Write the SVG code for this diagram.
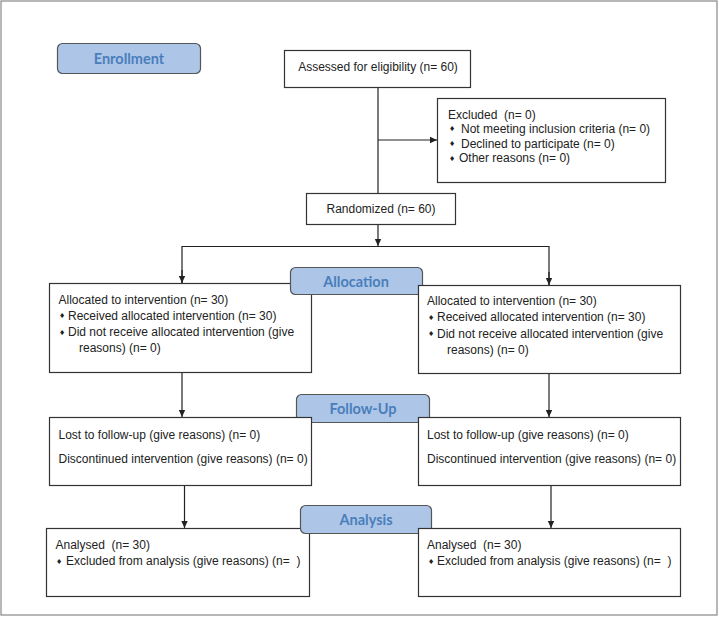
<svg xmlns="http://www.w3.org/2000/svg" width="719" height="617" viewBox="0 0 719 617">
<defs>
<marker id="ah" markerWidth="8" markerHeight="8" refX="7" refY="4" orient="auto" markerUnits="userSpaceOnUse">
<path d="M0,0.8 L7,4 L0,7.2 Z" fill="#222"/>
</marker>
<style>
.box{fill:#fff;stroke:#333;stroke-width:1.2}
.lab{fill:#adc6e8;stroke:#555;stroke-width:1.2}
.lt{font-family:Lato,"Open Sans","Liberation Sans",sans-serif;font-weight:bold;font-size:14.5px;fill:#4a7ebb;text-anchor:middle}
.t{font-family:"Liberation Sans",Arial,sans-serif;font-size:12px;fill:#222;white-space:pre}
.b{font-family:"DejaVu Sans",sans-serif;font-size:7px;fill:#222}
.c{text-anchor:middle}
.ln{fill:none;stroke:#222;stroke-width:1.2}
</style>
</defs>
<rect x="1" y="1" width="716" height="614" fill="#fff" stroke="#888" stroke-width="1.2"/>

<g id="enrollment">
<rect class="lab" x="57.5" y="43.5" width="143" height="30" rx="5"/>
<text class="lt" x="129" y="63.5">Enrollment</text>
</g>

<g id="assessed">
<rect class="box" x="284.5" y="50.5" width="186" height="37"/>
<text class="t c" x="378" y="71">Assessed for eligibility (n= 60)</text>
</g>

<g id="excluded">
<rect class="box" x="437.5" y="98.5" width="228" height="84"/>
<text class="t" x="448" y="118.5" xml:space="preserve">Excluded  (n= 0)</text>
<text class="b" x="449" y="131">♦</text><text class="t" x="461" y="132.5">Not meeting inclusion criteria (n= 0)</text>
<text class="b" x="449" y="146">♦</text><text class="t" x="461" y="147.5">Declined to participate (n= 0)</text>
<text class="b" x="449" y="160.5">♦</text><text class="t" x="459" y="162">Other reasons (n= 0)</text>
</g>

<g id="randomized">
<rect class="box" x="306.5" y="193.5" width="149" height="31"/>
<text class="t c" x="381" y="212.5">Randomized (n= 60)</text>
</g>

<g id="alloc-left">
<rect class="box" x="49.5" y="283.5" width="262" height="89"/>
<text class="t" x="58.5" y="303.5">Allocated to intervention (n= 30)</text>
<text class="b" x="59" y="318">♦</text><text class="t" x="68" y="319.5">Received allocated intervention (n= 30)</text>
<text class="b" x="59" y="334.5">♦</text><text class="t" x="68" y="336">Did not receive allocated intervention (give</text>
<text class="t" x="79" y="352">reasons) (n= 0)</text>
</g>

<g id="allocation">
<rect class="lab" x="290.5" y="267.5" width="132" height="27" rx="5"/>
<text class="lt" x="356" y="286.5">Allocation</text>
</g>

<g id="alloc-right">
<rect class="box" x="418.5" y="285.5" width="262" height="88"/>
<text class="t" x="427" y="305">Allocated to intervention (n= 30)</text>
<text class="b" x="428" y="319.5">♦</text><text class="t" x="437" y="321">Received allocated intervention (n= 30)</text>
<text class="b" x="428" y="336">♦</text><text class="t" x="437" y="337.5">Did not receive allocated intervention (give</text>
<text class="t" x="447" y="353.5">reasons) (n= 0)</text>
</g>

<g id="followup">
<rect class="lab" x="296.5" y="394.5" width="133" height="28" rx="5"/>
<text class="lt" x="363" y="413.5">Follow-Up</text>
</g>

<g id="follow-left">
<rect class="box" x="49.5" y="417.5" width="262" height="68"/>
<text class="t" x="58.5" y="438.5">Lost to follow-up (give reasons) (n= 0)</text>
<text class="t" x="58.5" y="462.5">Discontinued intervention (give reasons) (n= 0)</text>
</g>

<g id="follow-right">
<rect class="box" x="418.5" y="417.5" width="262" height="68"/>
<text class="t" x="427" y="438.5">Lost to follow-up (give reasons) (n= 0)</text>
<text class="t" x="427" y="462.5">Discontinued intervention (give reasons) (n= 0)</text>
</g>

<g id="analysis-left">
<rect class="box" x="46.5" y="528.5" width="263" height="68"/>
<text class="t" x="55.5" y="548.5" xml:space="preserve">Analysed  (n= 30)</text>
<text class="b" x="56" y="563.5">♦</text><text class="t" x="66" y="565" xml:space="preserve">Excluded from analysis (give reasons) (n=  )</text>
</g>

<g id="analysis">
<rect class="lab" x="300.5" y="505.5" width="131" height="28" rx="5"/>
<text class="lt" x="366" y="524.5">Analysis</text>
</g>

<g id="analysis-right">
<rect class="box" x="418.5" y="528.5" width="262" height="68"/>
<text class="t" x="427" y="548.5" xml:space="preserve">Analysed  (n= 30)</text>
<text class="b" x="428" y="563.5">♦</text><text class="t" x="437" y="565" xml:space="preserve">Excluded from analysis (give reasons) (n=  )</text>
</g>

<g id="connectors">
<line class="ln" x1="378" y1="88" x2="378" y2="193.5"/>
<line class="ln" x1="378" y1="140" x2="437" y2="140" marker-end="url(#ah)"/>
<line class="ln" x1="378" y1="225" x2="378" y2="246" marker-end="url(#ah)"/>
<polyline class="ln" points="182,283 182,246.5 549,246.5 549,285"/>
<line class="ln" x1="182" y1="270" x2="182" y2="283" marker-end="url(#ah)"/>
<line class="ln" x1="549" y1="272" x2="549" y2="285" marker-end="url(#ah)"/>
<line class="ln" x1="182" y1="373" x2="182" y2="417" marker-end="url(#ah)"/>
<line class="ln" x1="549" y1="374" x2="549" y2="417" marker-end="url(#ah)"/>
<line class="ln" x1="184.5" y1="486" x2="184.5" y2="528" marker-end="url(#ah)"/>
<line class="ln" x1="551" y1="486" x2="551" y2="528" marker-end="url(#ah)"/>
</g>
</svg>
